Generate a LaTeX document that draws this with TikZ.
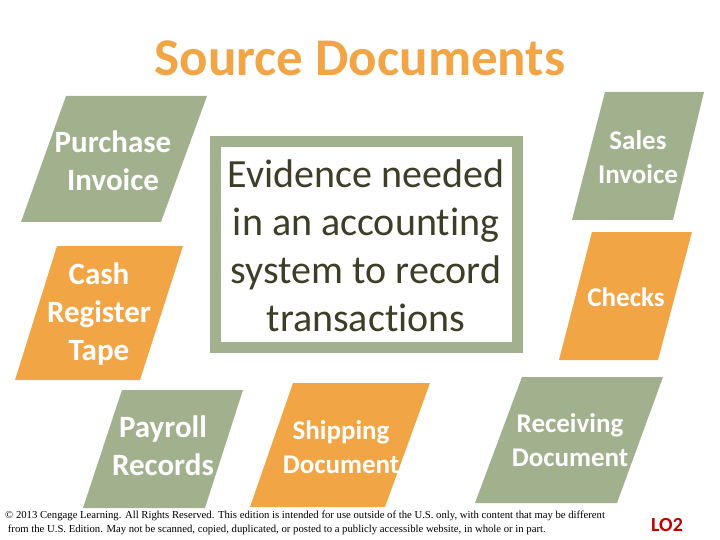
\documentclass[tikz,border=0pt]{standalone}
\usepackage{fontspec}
\setmainfont{Carlito}[Ligatures={NoCommon}]
\newfontfamily\cpyfont{Liberation Serif}
\definecolor{sage}{RGB}{161,177,142}
\definecolor{amber}{RGB}{242,165,69}
\definecolor{olivetext}{RGB}{62,62,40}
\definecolor{lored}{RGB}{192,0,0}
\begin{document}
\begin{tikzpicture}[x=1pt,y=-1pt,
  lbl/.style={text=white, align=center, inner sep=0pt},
  big/.style={font=\bfseries\fontsize{31}{38}\selectfont},
  small/.style={font=\bfseries\fontsize{27}{34}\selectfont}]
\useasboundingbox (0,0) rectangle (720,540);
\fill[white] (0,0) rectangle (720,540);

\node[font=\bfseries\fontsize{53}{60}\selectfont, text=amber, inner sep=0pt] (title) at (360,58) {Source Documents};

% parallelograms
\fill[sage]  (66,96) -- (207,96) -- (161,222) -- (21,222) -- cycle;
\fill[amber] (57,246) -- (183,246) -- (140,380) -- (15,380) -- cycle;
\fill[sage]  (122,390) -- (243,390) -- (205,508) -- (83,508) -- cycle;
\fill[amber] (293,383) -- (430,383) -- (385,507) -- (250,507) -- cycle;
\fill[sage]  (522,377) -- (663,377) -- (617,503) -- (475,503) -- cycle;
\fill[sage]  (605,92) -- (704,92) -- (673,220) -- (572,220) -- cycle;
\fill[amber] (592,232) -- (692,232) -- (658,360) -- (559,360) -- cycle;

\node[lbl, big] (purchase) at (113,161) {Purchase\\Invoice};
\node[lbl, big] (cash) at (99,314) {Cash\\Register\\Tape};
\node[lbl, big] (payroll) at (163,446) {Payroll\\Records};
\node[lbl, small] (shipping) at (341,447) {Shipping\\Document};
\node[lbl, small] (receiving) at (570,440) {Receiving\\Document};
\node[lbl, small] (sales) at (638,157) {Sales\\Invoice};
\node[lbl, small] (checks) at (626,297) {Checks};

% central box
\draw[sage, line width=11pt] (215.5,141.5) rectangle (517.5,347);
\node[text=olivetext, align=center, inner sep=0pt, font=\fontsize{40}{48}\selectfont] (evidence) at (366,246)
  {Evidence needed\\in an accounting\\system to record\\transactions};

\node[anchor=north west, align=left, inner sep=0pt, font=\cpyfont\fontsize{10.7}{13.5}\selectfont] (copy) at (5,511)
  {\textcopyright{} 2013 Cengage Learning. All Rights Reserved. This edition is intended for use outside of the U.S. only, with content that may be different\\
  \ from the U.S. Edition. May not be scanned, copied, duplicated, or posted to a publicly accessible website, in whole or in part.};

\node[font=\bfseries\fontsize{20}{24}\selectfont, text=lored, inner sep=0pt] (lo) at (667,525) {LO2};
\end{tikzpicture}
\end{document}
